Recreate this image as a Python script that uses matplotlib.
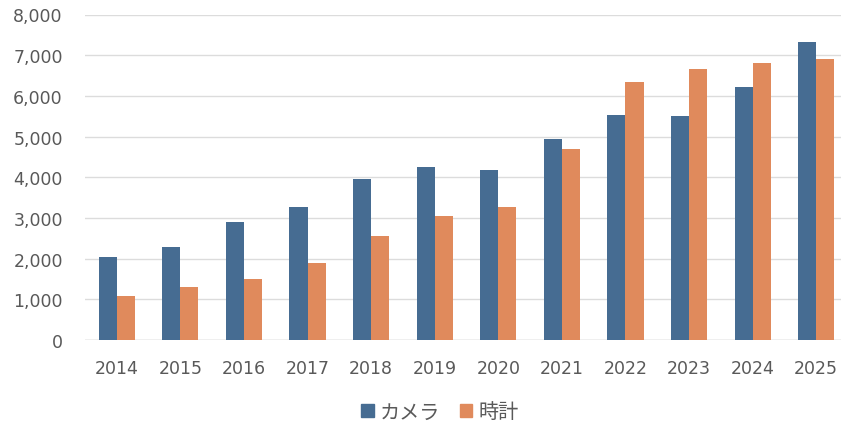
import matplotlib
matplotlib.use("Agg")
import matplotlib.pyplot as plt
import numpy as np
from matplotlib.patches import Patch
from matplotlib.ticker import FuncFormatter

plt.rcParams['font.family'] = ['Noto Sans CJK JP', 'DejaVu Sans']

years = ['2014', '2015', '2016', '2017', '2018', '2019', '2020', '2021', '2022', '2023', '2024', '2025']
camera = [2050, 2290, 2900, 3270, 3960, 4250, 4180, 4950, 5540, 5500, 6210, 7330]
watch = [1080, 1300, 1500, 1900, 2560, 3050, 3270, 4690, 6350, 6670, 6810, 6900]
series_names = ['カメラ', '時計']
yticks = [0, 1000, 2000, 3000, 4000, 5000, 6000, 7000, 8000]

c_blue = '#466c92'
c_orange = '#e08a5c'
text_c = '#595959'

W, H = 841, 431
fig = plt.figure(figsize=(W / 100, H / 100), dpi=100)
left, right, top, bottom = 85, 848, 15.5, 341
ax = fig.add_axes([left / W, (H - bottom) / H, (right - left) / W, (bottom - top) / H])

x = np.arange(len(years))
bw = 0.285
ax.bar(x - bw / 2, camera, bw, color=c_blue, zorder=3)
ax.bar(x + bw / 2, watch, bw, color=c_orange, zorder=3)

ax.set_xlim(-0.5, len(years) - 0.5)
ax.set_ylim(0, 8000)
ax.set_yticks(yticks)
ax.yaxis.set_major_formatter(FuncFormatter(lambda v, p: f'{int(v):,}'))
ax.set_xticks(x)
ax.set_xticklabels(years)
ax.grid(axis='y', color='#dcdcdc', linewidth=1.0, zorder=0)
for s in ax.spines.values():
    s.set_visible(False)
ax.axhline(0, color='#cfcfcf', linewidth=1.0, zorder=2)
ax.tick_params(axis='both', length=0, labelsize=12.5, colors=text_c)
ax.tick_params(axis='y', pad=16)
ax.tick_params(axis='x', pad=14)
for lab in ax.get_xticklabels() + ax.get_yticklabels():
    lab.set_family(['DejaVu Sans'])

handles = [Patch(color=c_blue, label=series_names[0]), Patch(color=c_orange, label=series_names[1])]
leg = fig.legend(handles=handles, loc='center', bbox_to_anchor=(440 / W, 1 - 413 / H), ncol=2,
                 frameon=False, fontsize=14.5, handlelength=0.6, handleheight=0.6,
                 handletextpad=0.3, columnspacing=1.0)
for t in leg.get_texts():
    t.set_color(text_c)

fig.savefig('out.png', dpi=100)
